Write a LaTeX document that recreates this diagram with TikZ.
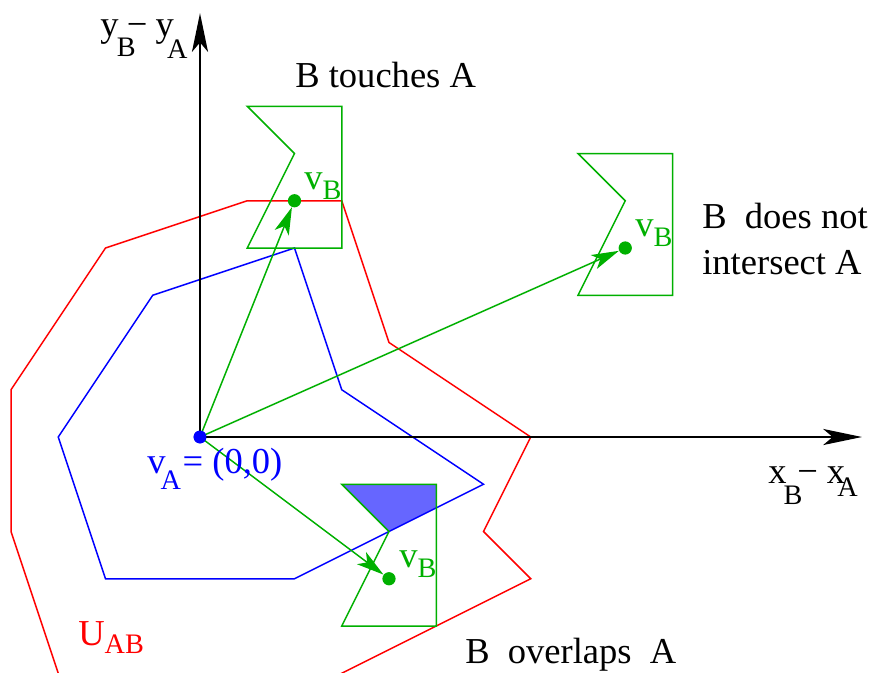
\documentclass[tikz,border=0pt]{standalone}
\usepackage{fontspec}
\setmainfont{Liberation Serif}
\usetikzlibrary{arrows.meta}
\definecolor{fgreen}{RGB}{0,176,0}
\definecolor{fillblue}{RGB}{102,102,255}
\newcommand\mainsz{\fontsize{22}{26}\selectfont}
\newcommand\subsz{\fontsize{17}{20}\selectfont}
\newcommand\lowsub[2]{\raisebox{-#1}{\subsz #2}}
\begin{document}
\begin{tikzpicture}[
  txt/.style={inner sep=0pt, anchor=base west, font=\mainsz},
  axisline/.style={line width=1.2pt, -{Stealth[length=0.82cm,width=0.34cm,inset=0.2cm]}},
  garrow/.style={fgreen, line width=0.9pt, -{Stealth[length=0.58cm,width=0.32cm,inset=0.15cm]}},
  poly/.style={line width=0.9pt, line join=miter},
  gdot/.style={circle, fill=fgreen, inner sep=0pt, minimum size=0.28cm},
  bdot/.style={circle, fill=blue, inner sep=0pt, minimum size=0.27cm},
  bshape/.style={poly, draw=fgreen},
  ]
\useasboundingbox (-4.233,-4.974) rectangle (14.328,9.249);
\fill[white] (-4.233,-4.974) rectangle (14.328,9.249);
\clip (-4.233,-4.974) rectangle (14.328,9.249);

% overlap region
\fill[fillblue] (3,-1) -- (5,-1) -- (5,-1.5) -- (4,-2) -- cycle;

% red polygon U_AB (its bottom edge lies below the picture)
\draw[poly, red] (1,5) -- (3,5) -- (4,2) -- (7,0) -- (6,-2) -- (7,-3) -- (2.7,-5.15)
  -- (-2.95,-5.15) -- (-4,-2) -- (-4,1) -- (-2,4) -- cycle;

% blue polygon A
\draw[poly, blue] (2,4) -- (-1,3) -- (-3,0) -- (-2,-3) -- (2,-3) -- (6,-1) -- (3,1) -- cycle;

% B shapes
\foreach \cx/\cy in {2/5, 9/4, 4/-3}{
  \draw[bshape, shift={(\cx,\cy)}] (-1,2) -- (1,2) -- (1,-1) -- (-1,-1) -- (0,1) -- cycle;
}

% axes
\node[bdot] (O) at (0,0) {};
\coordinate (xend) at (14.01,0);
\coordinate (yend) at (0,8.97);
\draw[axisline] (O.center) -- (xend);
\draw[axisline] (O.center) -- (yend);

% reference points of B
\node[gdot] (v1) at (2,5) {};
\node[gdot] (v2) at (9,4) {};
\node[gdot] (v3) at (4,-3) {};
\draw[garrow] (O.center) -- (v1);
\draw[garrow] (O.center) -- (v2);
\draw[garrow] (O.center) -- (v3);
\node[bdot] at (O) {};

% labels
\node[txt] (ylab) at (-2.116,8.466) {y\kern-1pt\lowsub{12pt}{B}\kern-5.4pt−\kern5pt y\kern-4.2pt\lowsub{13.2pt}{A}};
\node[txt] (xlab) at (12.02,-0.974) {x\kern-1.8pt\lowsub{13.2pt}{B}\kern-3pt−\kern5.4pt x\kern-4.8pt\lowsub{8.4pt}{A}};
\node[txt, blue] (valab) at (-1.122,-0.762) {v\kern-3pt\lowsub{10.2pt}{A}\kern1pt=\ (0,0)};
\node[txt, fgreen] (vb1lab) at (2.201,5.228) {v\lowsub{6pt}{B}};
\node[txt, fgreen] (vb2lab) at (9.206,4.233) {v\lowsub{6pt}{B}};
\node[txt, fgreen] (vb3lab) at (4.212,-2.772) {v\lowsub{6pt}{B}};
\node[txt, red] (ulab) at (-2.582,-4.402) {U\lowsub{5pt}{AB}};
\node[txt] (touch) at (2.011,7.407) {B touches A};
\node[txt] (nint1) at (10.624,4.423) {B\ \ does not};
\node[txt] (nint2) at (10.624,3.429) {intersect A};
\node[txt] (overl) at (5.608,-4.783) {B\ \ overlaps\ \ A};
\end{tikzpicture}
\end{document}
